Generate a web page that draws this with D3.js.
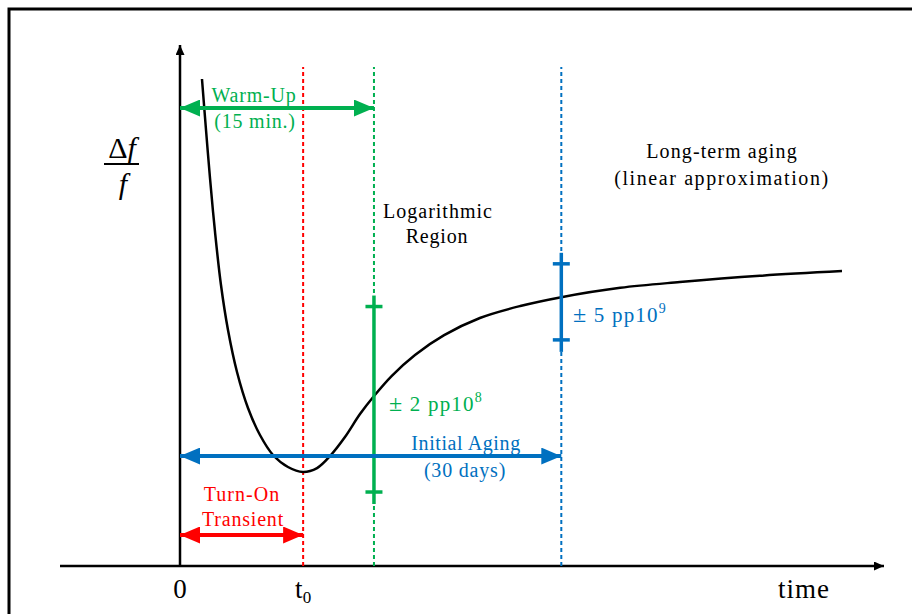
<!DOCTYPE html>
<html>
<head>
<meta charset="utf-8">
<script src="https://cdn.jsdelivr.net/npm/d3@7/dist/d3.min.js"></script>
<style>
  html, body { margin: 0; padding: 0; background: #fff; }
  svg { display: block; }
  text { font-family: "Liberation Serif", "Times New Roman", serif; }
</style>
</head>
<body>
<svg id="chart" width="912" height="614"></svg>
<script>
// Frequency drift of an oscillator after turn-on (schematic, arbitrary units)
const curveTime = [3.32, 3.93, 4.53, 5.29, 6.19, 7.25, 8.61, 10.27, 12.08, 14.05, 16.31, 18.58, 20.7, 22.66, 24.92, 27.19, 29.31, 32.0, 35.5, 39.9, 45.3, 51.4, 57.6, 66.5, 75.5, 87.6, 100];
const curveDrift = [93.47, 83.69, 74.47, 64.11, 53.93, 45.30, 37.24, 30.33, 25.14, 21.31, 19.0, 18.04, 18.8, 21.11, 24.76, 29.17, 32.63, 36.5, 40.5, 44.3, 47.6, 49.9, 51.6, 53.4, 54.5, 55.7, 56.6];

// Phase boundaries on the time axis
const phaseNames = ["Turn-On", "Warm-Up", "Initial Aging"];
const phaseEnd = [18.6, 29.3, 57.6];

// Stability bands: centre and half-width
const bandTime = [29.3, 57.6];
const bandCentre = [32.0, 50.7];
const bandHalf = [17.8, 7.3];

// Axis labels
const timeTickLabels = ["0", "t"];

const svg = d3.select("#chart");

const x = d3.scaleLinear().domain([0, 100]).range([180, 842]);
const y = d3.scaleLinear().domain([0, 100]).range([566, 45]);

const RED = "#FF0000", GREEN = "#00B050", BLUE = "#0070C0";

// outer frame
svg.append("rect")
  .attr("x", 9).attr("y", 9).attr("width", 1000).attr("height", 1000)
  .attr("fill", "none").attr("stroke", "#000").attr("stroke-width", 3);

const defs = svg.append("defs");
function headMarker(id, color, w, h, orient) {
  defs.append("marker")
    .attr("id", id)
    .attr("viewBox", `0 0 ${w} ${h}`)
    .attr("refX", w).attr("refY", h / 2)
    .attr("markerWidth", w).attr("markerHeight", h)
    .attr("markerUnits", "userSpaceOnUse")
    .attr("orient", orient)
    .append("path")
    .attr("d", `M0,0L${w},${h / 2}L0,${h}Z`)
    .attr("fill", color);
}
headMarker("axHead", "#000", 10, 9, "auto");
headMarker("gHead", GREEN, 20, 17, "auto-start-reverse");
headMarker("bHead", BLUE, 20, 17, "auto-start-reverse");
headMarker("rHead", RED, 20, 17, "auto-start-reverse");

// axes
const xMin = x.invert(60), xMax = x.invert(884);
svg.append("line")
  .attr("x1", x(xMin)).attr("x2", x(xMax))
  .attr("y1", y(0)).attr("y2", y(0))
  .attr("stroke", "#000").attr("stroke-width", 2.5)
  .attr("marker-end", "url(#axHead)");
svg.append("line")
  .attr("x1", x(0)).attr("x2", x(0))
  .attr("y1", y(0)).attr("y2", y(100))
  .attr("stroke", "#000").attr("stroke-width", 2.5)
  .attr("marker-end", "url(#axHead)");

// phase boundaries (dashed verticals)
const phaseColor = [RED, GREEN, BLUE];
svg.selectAll(".phase")
  .data(phaseEnd)
  .join("line")
  .attr("class", "phase")
  .attr("x1", d => x(d)).attr("x2", d => x(d))
  .attr("y1", y(0)).attr("y2", y(95.8))
  .attr("stroke", (d, i) => phaseColor[i])
  .attr("stroke-width", 2)
  .attr("stroke-dasharray", "4 3");

// drift curve
const pts = curveTime.map((t, i) => [t, curveDrift[i]]);
svg.append("path")
  .datum(pts)
  .attr("d", d3.line().x(d => x(d[0])).y(d => y(d[1])).curve(d3.curveCatmullRom.alpha(0.5)))
  .attr("fill", "none").attr("stroke", "#000").attr("stroke-width", 2.5);

// stability bands
const bandColor = [GREEN, BLUE];
bandTime.forEach((t, i) => {
  const g = svg.append("g").attr("stroke", bandColor[i]).attr("stroke-width", 3.5);
  const top = y(bandCentre[i] + bandHalf[i]), bot = y(bandCentre[i] - bandHalf[i]);
  g.append("line").attr("x1", x(t)).attr("x2", x(t)).attr("y1", top - 11).attr("y2", bot + 12);
  [top, bot].forEach(yy => g.append("line")
    .attr("x1", x(t) - 8.5).attr("x2", x(t) + 8.5).attr("y1", yy).attr("y2", yy));
});

// double-headed span arrows
function span(t1, level, color, head) {
  svg.append("line")
    .attr("x1", x(0)).attr("x2", x(t1))
    .attr("y1", y(level)).attr("y2", y(level))
    .attr("stroke", color).attr("stroke-width", 4)
    .attr("marker-start", `url(#${head})`)
    .attr("marker-end", `url(#${head})`);
}
span(phaseEnd[1], 87.9, GREEN, "gHead");
span(phaseEnd[2], 21.1, BLUE, "bHead");
span(phaseEnd[0], 5.95, RED, "rHead");

function label(txt, cx, by, color, size, spacing, anchor) {
  return svg.append("text")
    .attr("x", cx).attr("y", by)
    .attr("fill", color)
    .attr("font-size", size)
    .attr("letter-spacing", spacing)
    .attr("text-anchor", anchor || "middle")
    .text(txt);
}

label(phaseNames[1], 254, 102, GREEN, 20, 0.8);
label("(15 min.)", 255, 128, GREEN, 20, 0.8);
label(phaseNames[2], 466, 450, BLUE, 20, 0.6);
label("(30 days)", 465, 477, BLUE, 20, 0.8);
label(phaseNames[0], 242, 501, RED, 20, 1);
label("Transient", 243, 526, RED, 20, 0.8);
label("Logarithmic", 438, 218, "#000", 20, 1);
label("Region", 437, 243, "#000", 20, 0.8);
label("Long-term aging", 722, 158, "#000", 20, 1.1);
label("(linear approximation)", 722, 185, "#000", 20, 1.6);

// band values
function bandLabel(px, by, color, digit, exp) {
  const t = svg.append("text").attr("x", px).attr("y", by)
    .attr("fill", color).attr("font-size", 21).attr("letter-spacing", 1.2);
  t.append("tspan").attr("font-size", 24).text("\u00B1");
  t.append("tspan").text(` ${digit} pp10`);
  t.append("tspan").attr("font-size", 14).attr("dy", -9).text(exp);
}
bandLabel(389, 411, GREEN, "2", "8");
bandLabel(573, 322, BLUE, "5", "9");

// time axis labels
label(timeTickLabels[0], x(0), 598, "#000", 27, 0);
const t0 = svg.append("text").attr("x", x(phaseEnd[0])).attr("y", 598)
  .attr("font-size", 27).attr("text-anchor", "middle");
t0.append("tspan").text(timeTickLabels[1]);
t0.append("tspan").attr("font-size", 17).attr("dy", 5).text("0");
label("time", 804, 598, "#000", 27, 1);

// vertical axis label  Δf / f
const num = svg.append("text").attr("x", 122).attr("y", 158)
  .attr("font-size", 30).attr("text-anchor", "middle");
num.append("tspan").text("\u0394");
num.append("tspan").attr("font-style", "italic").text("f");
svg.append("line").attr("x1", 104).attr("x2", 139).attr("y1", 164).attr("y2", 164)
  .attr("stroke", "#000").attr("stroke-width", 2);
svg.append("text").attr("x", 123).attr("y", 194)
  .attr("font-size", 30).attr("font-style", "italic").attr("text-anchor", "middle").text("f");
</script>
</body>
</html>
